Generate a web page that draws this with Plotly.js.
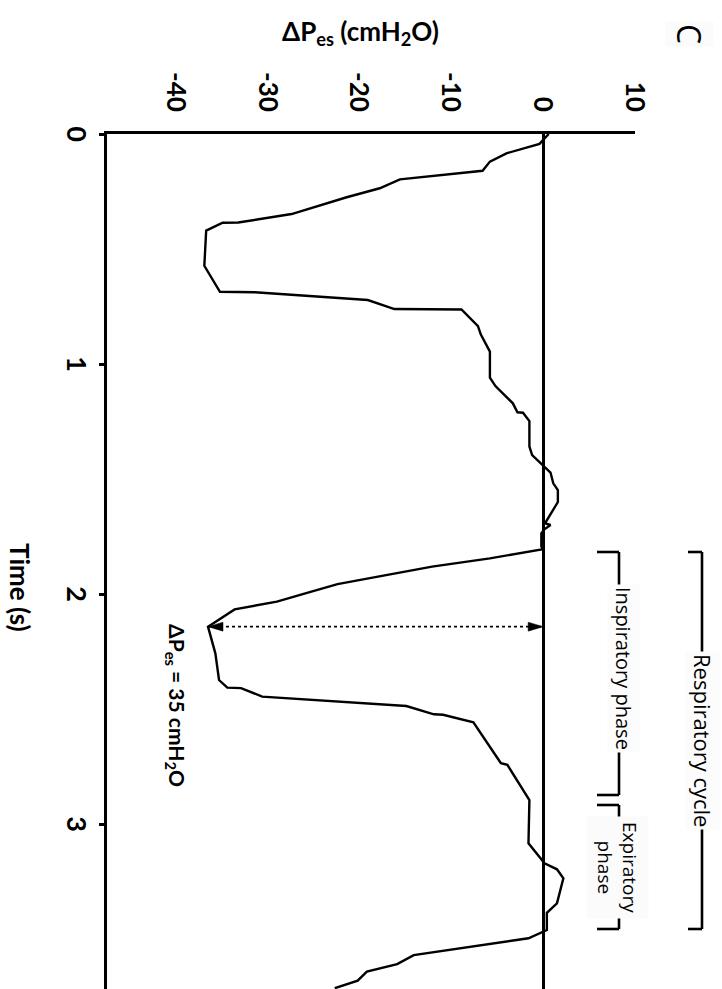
<!DOCTYPE html>
<html>
<head>
<meta charset="utf-8">
<script src="https://cdn.plot.ly/plotly-3.0.1.min.js"></script>
<style>
  html, body { margin: 0; padding: 0; background: #ffffff; overflow: hidden; }
  #wrap { position: absolute; left: 0; top: 0; width: 722px; height: 989px; overflow: hidden; }
  #chart { position: absolute; left: 0; top: 0; width: 989px; height: 722px;
           transform-origin: 0 0; transform: translateX(722px) rotate(90deg); }
</style>
</head>
<body>
<div id="wrap"><div id="chart"></div></div>
<script>
// ---- data (time in s, oesophageal pressure swing in cmH2O) ----
const timeS = [0.000, 0.043, 0.084, 0.120, 0.160, 0.197, 0.236, 0.275, 0.348, 0.385, 0.386,
  0.420, 0.573, 0.686, 0.688, 0.722, 0.761, 0.763, 0.835, 0.871, 0.946, 1.059, 1.096,
  1.171, 1.210, 1.212, 1.248, 1.359, 1.396, 1.472, 1.519, 1.548, 1.600, 1.671, 1.693,
  1.700, 1.720, 1.736, 1.794, 1.805, 1.845, 1.881, 1.922, 1.957, 1.997, 2.033, 2.067,
  2.142, 2.258, 2.374, 2.407, 2.409, 2.446, 2.487, 2.523, 2.525, 2.558, 2.736, 2.743,
  2.896, 3.084, 3.171, 3.197, 3.236, 3.345, 3.386, 3.461, 3.497, 3.570, 3.609, 3.642,
  3.681, 3.714];
const deltaPes = [0.6, -0.4, -4.0, -5.8, -6.6, -15.6, -17.8, -21.4, -27.4, -33.2, -34.9,
  -36.7, -36.9, -35.2, -31.4, -19.1, -16.2, -8.9, -7.1, -6.8, -5.8, -5.8, -5.2,
  -3.3, -2.8, -2.2, -1.5, -1.5, -1.2, 0.8, 1.1, 1.6, 1.6, 0.5, 0.2,
  0.8, 0.1, -0.2, -0.2, 0.0, -5.8, -12.1, -17.9, -22.4, -25.9, -29.0, -33.6,
  -36.5, -35.7, -35.3, -34.4, -32.9, -30.6, -14.9, -11.9, -10.9, -7.6, -4.6, -3.9,
  -1.5, -1.6, 0.15, 1.5, 2.2, 1.5, 0.4, 0.4, -1.6, -14.1, -15.9, -19.2,
  -20.2, -22.7];
const pressureTicks = [-40, -30, -20, -10, 0, 10];
const timeTicks = [0, 1, 2, 3];
const pressureTitle = 'ΔP<sub>es</sub> (cmH<sub>2</sub>O)';
const timeTitle = 'Time (s)';
const panelLabel = 'C';
const cycleLabel = 'Respiratory cycle';
const inspLabel = 'Inspiratory phase';
const expLabel = 'Expiratory<br>phase';
const swingLabel = 'ΔP<sub>es</sub> = 35 cmH<sub>2</sub>O';

// ---- layout geometry (unrotated frame: 989 x 722, rotated 90° clockwise on the page) ----
const W = 989, H = 722;
const M = {l: 134, r: 0, t: 87, b: 107};
const PW = W - M.l - M.r, PH = H - M.t - M.b;
// convert a page position (X to the right, Y down, after rotation) to paper coords
function pg(X, Y) { return {x: (Y - M.l) / PW, y: (X - M.b) / PH}; }

// second-cycle trough (for the ΔPes arrow)
let iMin = -1;
for (let i = 0; i < timeS.length; i++) {
  if (timeS[i] > 1.8 && (iMin < 0 || deltaPes[i] < deltaPes[iMin])) iMin = i;
}
const tMin = timeS[iMin], pMin = deltaPes[iMin];

const boldFont = {family: 'Lato, "Open Sans", sans-serif', size: 26, color: '#000', weight: 700};
const textFont = {family: '"Open Sans", sans-serif', color: '#000'};

const trace = {
  x: timeS, y: deltaPes, type: 'scatter', mode: 'lines',
  line: {color: '#000', width: 2.4}, hoverinfo: 'skip', showlegend: false
};

function seg(a, b) {
  const p = pg(a[0], a[1]), q = pg(b[0], b[1]);
  return {type: 'line', xref: 'paper', yref: 'paper', x0: p.x, y0: p.y, x1: q.x, y1: q.y,
          line: {color: '#000', width: 2.6}, layer: 'above'};
}
function bracket(Xline, Xtick, Y0, Y1) {
  return [seg([Xtick, Y0], [Xline, Y0]), seg([Xline, Y0], [Xline, Y1]), seg([Xline, Y1], [Xtick, Y1])];
}

const shapes = [].concat(
  bracket(702, 688, 552, 929),
  bracket(619, 597, 552, 795),
  bracket(619, 597, 805, 929),
  [
    {type: 'line', xref: 'x', yref: 'y', x0: tMin, x1: tMin, y0: pMin, y1: 0,
     line: {color: '#000', width: 1.6, dash: 'dot'}, layer: 'above'},
    {type: 'path', xref: 'x', yref: 'y', xsizemode: 'pixel', ysizemode: 'pixel',
     xanchor: tMin, yanchor: 0, path: 'M0,0 L-4.5,-15 L4.5,-15 Z',
     fillcolor: '#000', line: {color: '#000', width: 0.5}, layer: 'above'},
    {type: 'path', xref: 'x', yref: 'y', xsizemode: 'pixel', ysizemode: 'pixel',
     xanchor: tMin, yanchor: pMin, path: 'M0,0 L-4.5,15 L4.5,15 Z',
     fillcolor: '#000', line: {color: '#000', width: 0.5}, layer: 'above'}
  ]
);

function ann(pos, text, font, extra) {
  return Object.assign({xref: 'paper', yref: 'paper', x: pos.x, y: pos.y, text: text,
    showarrow: false, font: font, xanchor: 'center', yanchor: 'middle'}, extra || {});
}

const annotations = [
  ann(pg(360, 33), '<b>' + pressureTitle + '</b>', Object.assign({}, boldFont, {size: 26}), {textangle: -90}),
  ann(pg(20, 587), '<b>' + timeTitle + '</b>', Object.assign({}, boldFont, {size: 26})),
  ann(pg(689, 34), panelLabel, Object.assign({}, textFont, {size: 32}),
      {bgcolor: '#fbfbfb', borderpad: 2}),
  ann(pg(703, 740), cycleLabel, Object.assign({}, textFont, {size: 22}),
      {bgcolor: '#fcfcfc', borderpad: 2}),
  ann(pg(623, 668), inspLabel, Object.assign({}, textFont, {size: 20}),
      {bgcolor: '#fcfcfc', borderpad: 2}),
  ann(pg(617, 867), expLabel, Object.assign({}, textFont, {size: 19}),
      {bgcolor: '#fbfbfb', borderpad: 5}),
  ann(pg(176, 622), '<b>' + swingLabel + '</b>', Object.assign({}, boldFont, {size: 21}),
      {xanchor: 'left'})
];

const layout = {
  width: W, height: H,
  margin: M,
  paper_bgcolor: '#ffffff', plot_bgcolor: '#ffffff',
  showlegend: false,
  xaxis: {
    range: [0, PW / 230], showgrid: false, zeroline: false,
    showline: true, linecolor: '#000', linewidth: 3,
    ticks: 'outside', ticklen: 5, tickwidth: 3, tickcolor: '#000',
    tickvals: timeTicks, ticktext: timeTicks.map(String),
    tickfont: Object.assign({}, boldFont, {size: 27}), ticklabelstandoff: 0
  },
  yaxis: {
    range: [-47.5, 10], showgrid: false,
    zeroline: true, zerolinecolor: '#000', zerolinewidth: 3,
    showline: true, linecolor: '#000', linewidth: 3,
    ticks: '', tickvals: pressureTicks, ticktext: pressureTicks.map(String),
    tickfont: boldFont, ticklabelstandoff: 14
  },
  shapes: shapes,
  annotations: annotations
};

Plotly.newPlot('chart', [trace], layout, {displayModeBar: false, staticPlot: true});
</script>
</body>
</html>
